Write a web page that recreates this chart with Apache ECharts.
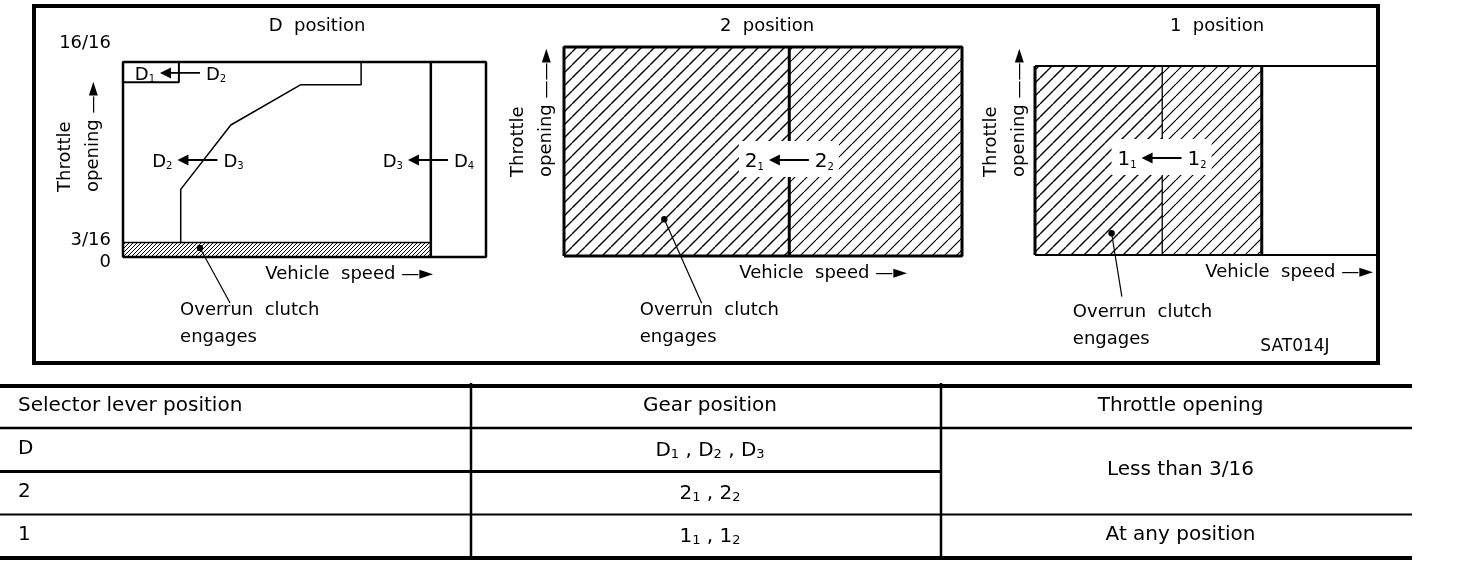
<!DOCTYPE html>
<html>
<head>
<meta charset="utf-8">
<title>Overrun clutch engagement</title>
<script src="https://cdn.jsdelivr.net/npm/echarts@6/dist/echarts.min.js"></script>
<style>
  html, body { margin: 0; padding: 0; background: #fff; }
  #chart { width: 1472px; height: 588px; }
</style>
</head>
<body>
<div id="chart"></div>
<script>
  // x = vehicle speed (0-100 as drawn), y = throttle opening (0-16 sixteenths as drawn)
  const dThrottleTicks = [0, 1.2, 16];
  const dThrottleTickLabels = ['0', '3/16', '16/16'];
  const dOuterBox = [[0, 0], [0, 16], [100, 16], [100, 0], [0, 0]];
  const dShiftD3D4 = [[84.8, 0], [84.8, 16]];
  const dShiftD1D2 = [[0, 14.33], [15.4, 14.33], [15.4, 16]];
  const dShiftD2D3 = [[65.6, 16], [65.6, 14.14], [49, 14.14], [29.7, 10.83], [15.9, 5.55], [15.9, 1.2]];
  const dOverrunBand = [[0, 0, 84.8, 1.2]];
  const dShifts = [
    [15.7, 15.1, 'D', '1', '2'],
    [20.5, 7.96, 'D', '2', '3'],
    [84.0, 7.96, 'D', '3', '4'],
  ];
  const dCallout = [[21.2, 0.74, 29.5, -3.77]];

  const p2Box = [[0, 0], [0, 16], [100, 16], [100, 0], [0, 0]];
  const p2Regions = [[0, 0, 56.6, 16], [56.6, 0, 100, 16]];
  const p2Split = [[56.6, 0], [56.6, 16]];
  const p2Shifts = [[56.5, 7.35, '2', '1', '2']];
  const p2Callout = [[25.2, 2.81, 34.6, -3.62]];

  const p1Regions = [[0, 0, 37.2, 16], [37.2, 0, 66.3, 16]];
  const p1Split = [[37.2, 0], [37.2, 16]];
  const p1Edge = [[66.3, 0], [66.3, 16]];
  const p1Left = [[0, 0], [0, 16]];
  const p1Top = [[0, 16], [100, 16]];
  const p1Bottom = [[0, 0], [100, 0]];
  const p1Shifts = [[37.0, 8.21, '1', '1', '2']];
  const p1Callout = [[22.4, 1.84, 25.4, -3.53]];

  const panelTitles = ['D  position', '2  position', '1  position'];
  const calloutText = 'Overrun  clutch\nengages';
  const figureCode = 'SAT014J';

  const tableHeader = ['Selector lever position', 'Gear position', 'Throttle opening'];
  const selectorPositions = ['D', '2', '1'];
  const gearPositions = [
    [['D', '1'], ['D', '2'], ['D', '3']],
    [['2', '1'], ['2', '2']],
    [['1', '1'], ['1', '2']],
  ];
  const throttleConditions = [['Less than 3/16', 2], ['At any position', 1]];

  const FONT = 'DejaVu Sans';
  const BLACK = '#000';

  const hatchPattern = (step, width) => {
    const c = document.createElement('canvas');
    c.width = step;
    c.height = step;
    const ctx = c.getContext('2d');
    ctx.strokeStyle = BLACK;
    ctx.lineWidth = width;
    ctx.beginPath();
    for (let k = -1; k <= 1; k++) {
      ctx.moveTo(k * step, step);
      ctx.lineTo(k * step + step, 0);
    }
    ctx.stroke();
    return { image: c, repeat: 'repeat' };
  };

  const coarseHatch = hatchPattern(13, 1.4);
  const fineHatch = hatchPattern(12, 1.2);
  const bandHatch = hatchPattern(4, 1);

  const polyline = (grid, data, width) => ({
    type: 'line',
    xAxisIndex: grid,
    yAxisIndex: grid,
    data,
    showSymbol: false,
    clip: false,
    silent: true,
    lineStyle: { color: BLACK, width },
  });

  const regions = (grid, data, fills, stroke) => ({
    type: 'custom',
    xAxisIndex: grid,
    yAxisIndex: grid,
    data,
    silent: true,
    renderItem: (params, api) => {
      const p0 = api.coord([api.value(0), api.value(1)]);
      const p1 = api.coord([api.value(2), api.value(3)]);
      return {
        type: 'rect',
        shape: { x: p0[0], y: p1[1], width: p1[0] - p0[0], height: p0[1] - p1[1] },
        style: { fill: fills[params.dataIndex], stroke: stroke ? BLACK : null, lineWidth: 1.5 },
      };
    },
  });

  const gearRich = (size, subSize) => ({
    m: { fontSize: size, fontFamily: FONT, fill: BLACK, lineHeight: size + 4, verticalAlign: 'bottom' },
    s: { fontSize: subSize, fontFamily: FONT, fill: BLACK, lineHeight: size + 4, verticalAlign: 'bottom' },
  });
  const gear = (g, n) => `{m|${g}}{s|${n}}`;

  // shift arrows: "lower ◀— higher"
  const shifts = (grid, data, masked, size) => ({
    type: 'custom',
    xAxisIndex: grid,
    yAxisIndex: grid,
    data: data.map((d) => [d[0], d[1]]),
    silent: true,
    z: 5,
    renderItem: (params, api) => {
      const d = data[params.dataIndex];
      const [cx, cy] = api.coord([api.value(0), api.value(1)]);
      const half = 20;
      const children = [];
      if (masked) {
        children.push({
          type: 'rect',
          shape: { x: cx - 50, y: cy - 19, width: 100, height: 36 },
          style: { fill: '#fff' },
        });
      }
      children.push(
        {
          type: 'line',
          shape: { x1: cx - half + 8, y1: cy, x2: cx + half, y2: cy },
          style: { stroke: BLACK, lineWidth: 1.8 },
        },
        {
          type: 'polygon',
          shape: { points: [[cx - half, cy], [cx - half + 11, cy - 5.5], [cx - half + 11, cy + 5.5]] },
          style: { fill: BLACK },
        },
        {
          type: 'text',
          x: cx - half - 5,
          y: cy,
          style: { text: gear(d[2], d[3]), rich: gearRich(size, 10), align: 'right', verticalAlign: 'middle' },
        },
        {
          type: 'text',
          x: cx + half + 6,
          y: cy,
          style: { text: gear(d[2], d[4]), rich: gearRich(size, 10), align: 'left', verticalAlign: 'middle' },
        }
      );
      return { type: 'group', children };
    },
  });

  // leader line from the hatched area to the caption
  const callout = (grid, data, textDx, textDy) => ({
    type: 'custom',
    xAxisIndex: grid,
    yAxisIndex: grid,
    data,
    silent: true,
    z: 6,
    renderItem: (params, api) => {
      const p0 = api.coord([api.value(0), api.value(1)]);
      const p1 = api.coord([api.value(2), api.value(3)]);
      return {
        type: 'group',
        children: [
          { type: 'circle', shape: { cx: p0[0], cy: p0[1], r: 3.2 }, style: { fill: BLACK } },
          {
            type: 'line',
            shape: { x1: p0[0], y1: p0[1], x2: p1[0], y2: p1[1] },
            style: { stroke: BLACK, lineWidth: 1.2 },
          },
          {
            type: 'text',
            x: p1[0] + textDx,
            y: p1[1] + textDy,
            style: {
              text: calloutText,
              fontFamily: FONT,
              fontSize: 18,
              lineHeight: 27,
              fill: BLACK,
              align: 'left',
              verticalAlign: 'top',
            },
          },
        ],
      };
    },
  });

  const nameStyle = { fontFamily: FONT, fontSize: 18, color: BLACK };

  const xAxis = (grid, gap) => ({
    type: 'value',
    gridIndex: grid,
    min: 0,
    max: 100,
    axisLine: { show: false },
    axisTick: { show: false },
    axisLabel: { show: false },
    splitLine: { show: false },
    name: 'Vehicle  speed \u2014\u25BA',
    nameLocation: 'end',
    nameGap: gap,
    nameMoveOverlap: false,
    nameTextStyle: { ...nameStyle, align: 'right', verticalAlign: 'top', lineHeight: 34 },
  });

  const yAxis = (grid, gap, pad, arrow, extra) => ({
    type: 'value',
    gridIndex: grid,
    min: 0,
    max: 16,
    axisLine: { show: false },
    axisTick: { show: false },
    axisLabel: { show: false },
    splitLine: { show: false },
    name: 'Throttle\nopening ' + arrow,
    nameLocation: 'start',
    nameRotate: 90,
    nameGap: gap,
    nameMoveOverlap: false,
    nameTextStyle: {
      ...nameStyle,
      align: 'left',
      verticalAlign: 'bottom',
      lineHeight: 28,
      padding: [0, 0, pad, 0],
    },
    ...extra,
  });

  const tickRich = (pad) => ({ fontFamily: FONT, fontSize: 18, color: BLACK, padding: pad });

  const titleX = [317, 767, 1217];

  // table built from the arrays above
  const colX = [0, 471, 941, 1412];
  const rowY = [386, 428, 471.5, 514.5, 558];
  const tableRich = gearRich(20, 13);
  const hLine = (y, x2, w) => ({
    type: 'line',
    shape: { x1: colX[0], y1: y, x2, y2: y },
    style: { stroke: BLACK, lineWidth: w },
  });
  const cellText = (text, col, yMid, rich) => ({
    type: 'text',
    x: col === 0 ? 18 : (colX[col] + colX[col + 1]) / 2 + 4,
    y: yMid,
    style: {
      text,
      rich,
      fontFamily: FONT,
      fontSize: 20,
      fill: BLACK,
      align: col === 0 ? 'left' : 'center',
      verticalAlign: 'middle',
    },
  });

  const tableGraphics = [
    hLine(rowY[0], colX[3], 4),
    hLine(rowY[1], colX[3], 2.5),
    hLine(rowY[2], colX[2], 3),
    hLine(rowY[3], colX[3], 2),
    hLine(rowY[4], colX[3], 4),
    ...[colX[1], colX[2]].map((x) => ({
      type: 'line',
      shape: { x1: x, y1: 383, x2: x, y2: rowY[4] },
      style: { stroke: BLACK, lineWidth: 2.5 },
    })),
    ...tableHeader.map((t, i) => cellText(t, i, (rowY[0] + rowY[1]) / 2 - 1)),
  ];
  selectorPositions.forEach((s, r) => {
    const yMid = (rowY[r + 1] + rowY[r + 2]) / 2 - 1;
    tableGraphics.push(cellText(s, 0, yMid));
    tableGraphics.push(cellText(gearPositions[r].map((g) => gear(g[0], g[1])).join('{m| , }'), 1, yMid, tableRich));
  });
  let rowStart = 0;
  throttleConditions.forEach(([text, span]) => {
    const yMid = (rowY[rowStart + 1] + rowY[rowStart + 1 + span]) / 2 - 1;
    tableGraphics.push(cellText(text, 2, yMid));
    rowStart += span;
  });

  const chart = echarts.init(document.getElementById('chart'));

  const option = {
    animation: false,
    backgroundColor: '#fff',
    title: [
      ...panelTitles.map((t, i) => ({
        text: t,
        left: titleX[i],
        top: 15,
        textAlign: 'center',
        padding: 0,
        textStyle: { fontFamily: FONT, fontSize: 18, fontWeight: 'normal', color: BLACK, lineHeight: 22 },
      })),
      {
        text: figureCode,
        left: 1295,
        top: 336,
        textAlign: 'center',
        padding: 0,
        textStyle: { fontFamily: FONT, fontSize: 17, fontWeight: 'normal', color: BLACK, lineHeight: 22 },
      },
    ],
    grid: [
      { left: 123, top: 62, width: 363, height: 195, outerBoundsMode: 'none' },
      { left: 564, top: 47, width: 398, height: 209, outerBoundsMode: 'none' },
      { left: 1035, top: 66, width: 342, height: 189, outerBoundsMode: 'none' },
    ],
    xAxis: [xAxis(0, -53), xAxis(1, -55), xAxis(2, -4)],
    yAxis: [
      yAxis(0, -65, 16, '\u2014\u25BA', {
        axisLabel: {
          show: true,
          customValues: dThrottleTicks,
          margin: 12,
          formatter: (v) => {
            const i = dThrottleTicks.indexOf(v);
            const key = ['zero', 'mid', 'top'][i];
            return `{${key}|${dThrottleTickLabels[i]}}`;
          },
          rich: {
            zero: tickRich([10, 0, 0, 0]),
            mid: tickRich([0, 0, 4, 0]),
            top: tickRich([0, 0, 38, 0]),
          },
        },
      }),
      yAxis(1, -79, 4, '\u2014\u2014\u25BA'),
      yAxis(2, -78, 2, '\u2014\u2014\u25BA'),
    ],
    graphic: [
      {
        type: 'rect',
        shape: { x: 34, y: 6, width: 1344, height: 357 },
        style: { fill: null, stroke: BLACK, lineWidth: 4 },
      },
      ...tableGraphics,
    ],
    series: [
      // D position
      regions(0, dOverrunBand, [bandHatch], true),
      polyline(0, dOuterBox, 2.5),
      polyline(0, dShiftD3D4, 2.5),
      polyline(0, dShiftD1D2, 2),
      polyline(0, dShiftD2D3, 1.5),
      shifts(0, dShifts, false, 18),
      callout(0, dCallout, -50, -6),
      // 2 position
      regions(1, p2Regions, [coarseHatch, fineHatch], false),
      polyline(1, p2Split, 3),
      polyline(1, p2Box, 3),
      shifts(1, p2Shifts, true, 20),
      callout(1, p2Callout, -62, -6),
      // 1 position
      regions(2, p1Regions, [coarseHatch, fineHatch], false),
      polyline(2, p1Split, 1.3),
      polyline(2, p1Edge, 3),
      polyline(2, p1Left, 3),
      polyline(2, p1Top, 2),
      polyline(2, p1Bottom, 2),
      shifts(2, p1Shifts, true, 20),
      callout(2, p1Callout, -49, 2),
    ],
  };

  chart.setOption(option);
  window.addEventListener('resize', () => chart.resize());
</script>
</body>
</html>
